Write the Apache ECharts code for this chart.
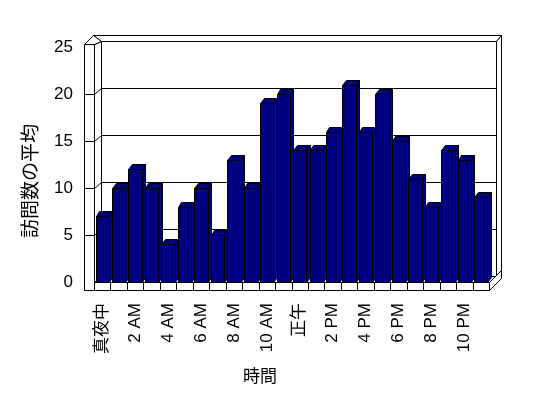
<!DOCTYPE html>
<html>
<head>
<meta charset="utf-8">
<script src="https://cdn.jsdelivr.net/npm/echarts@6/dist/echarts.min.js"></script>
<style>
html,body{margin:0;padding:0;background:#fff;}
#c{width:548px;height:398px;}
</style>
</head>
<body>
<div id="c"></div>
<script>
const hours = ['真夜中','1 AM','2 AM','3 AM','4 AM','5 AM','6 AM','7 AM','8 AM','9 AM','10 AM','11 AM',
               '正午','1 PM','2 PM','3 PM','4 PM','5 PM','6 PM','7 PM','8 PM','9 PM','10 PM','11 PM'];
const visits = [7,10,12,10,4,8,10,5,13,10,19,20,14,14,16,21,16,20,15,11,8,14,13,9];
const yMin = 0, yMax = 25, yStep = 5;
const gridValues = [5,10,15,20];
const xTitle = '時間';
const yTitle = '訪問数の平均';

const FONT = "'Liberation Sans','Noto Sans CJK JP',sans-serif";
const BAR = '#000080';
const r = v => Math.round(v) + 0.5;

function L(x1,y1,x2,y2){return {type:'line',shape:{x1:r(x1),y1:r(y1),x2:r(x2),y2:r(y2)},style:{stroke:'#000',lineWidth:1}};}
function P(pts,fill){return {type:'polygon',shape:{points:pts.map(p=>[r(p[0]),r(p[1])])},style:{fill:fill,stroke:'#000',lineWidth:1}};}

function renderFrame(params, api){
  const n = hours.length;
  const bw = api.size([1,0])[0];
  const c0 = api.coord([0,yMin]);
  const cN = api.coord([n-1,yMin]);
  const xl = c0[0]-bw/2, xr = cN[0]+bw/2, y0 = c0[1];
  const yT = api.coord([0,yMax])[1];
  const di = [6.5,-6], dO = [12,-12.5], ww = 10, fh = 8.3;
  const ch = [];
  // back wall inner surface
  ch.push(P([[xl+di[0],yT+di[1]],[xr+di[0],yT+di[1]],[xr+di[0],y0+di[1]],[xl+di[0],y0+di[1]]],'#fff'));
  // back wall top face
  ch.push(P([[xl+di[0],yT+di[1]],[xr+di[0],yT+di[1]],[xr+dO[0],yT+dO[1]],[xl-1,yT+dO[1]]],'#fff'));
  // back wall right end
  ch.push(P([[xr+di[0],yT+di[1]],[xr+dO[0],yT+dO[1]],[xr+dO[0],y0-12],[xr+di[0],y0+di[1]]],'#fff'));
  // floor top
  ch.push(P([[xl,y0],[xr,y0],[xr+di[0],y0+di[1]],[xl+di[0],y0+di[1]]],'#fff'));
  // floor right end
  ch.push(P([[xr,y0],[xr,y0+fh],[xr+12,y0+fh-12],[xr+12,y0-12]],'#fff'));
  // floor front face
  ch.push(P([[xl,y0],[xr,y0],[xr,y0+fh],[xl,y0+fh]],'#fff'));
  for(let k=1;k<n;k++){ ch.push(L(xl+k*bw,y0,xl+k*bw,y0+fh)); }
  // left wall inner face
  ch.push(P([[xl,yT-2.7],[xl+di[0],yT+di[1]],[xl+di[0],y0+di[1]],[xl,y0]],'#fff'));
  // left wall top face
  ch.push(P([[xl-ww,yT-2.7],[xl,yT-2.7],[xl+di[0],yT+di[1]],[xl-1,yT+dO[1]]],'#fff'));
  // left wall front face
  ch.push(P([[xl-ww,yT-2.7],[xl,yT-2.7],[xl,y0+fh],[xl-ww,y0+fh]],'#fff'));
  // gridlines
  gridValues.forEach(v=>{
    const yv = api.coord([0,v])[1];
    ch.push(L(xl-ww,yv,xl,yv));
    ch.push(L(xl,yv,xl+di[0],yv+di[1]));
    ch.push(L(xl+di[0],yv+di[1],xr+di[0],yv+di[1]));
  });
  return {type:'group',children:ch};
}

function renderBar(params, api){
  const i = api.value(0), v = api.value(1);
  const bw = api.size([1,0])[0];
  const w = bw*0.81;
  const p = api.coord([i,v]);
  const p0 = api.coord([i,yMin]);
  const x0 = p[0]-w/2, x1 = p[0]+w/2, yt = p[1], yb = p0[1];
  const dx = 3.5, dy = -5;
  return {type:'group',children:[
    P([[x1,yt],[x1,yb],[x1+dx,yb+dy],[x1+dx,yt+dy]],BAR),
    P([[x0,yt],[x1,yt],[x1+dx,yt+dy],[x0+dx,yt+dy]],BAR),
    P([[x0,yt],[x1,yt],[x1,yb],[x0,yb]],BAR)
  ]};
}

const chart = echarts.init(document.getElementById('c'), null, {renderer:'canvas'});
chart.setOption({
  animation:false,
  backgroundColor:'#fff',
  grid:{left:94,right:59,top:47,bottom:116},
  xAxis:{
    type:'category', data:hours,
    axisLine:{show:false}, axisTick:{show:false},
    axisLabel:{interval:1, rotate:90, margin:21, color:'#000', fontSize:17, fontFamily:FONT}
  },
  yAxis:{
    type:'value', min:yMin, max:yMax, interval:yStep,
    axisLine:{show:false}, axisTick:{show:false}, splitLine:{show:false},
    axisLabel:{margin:21, color:'#000', fontSize:17, fontFamily:FONT}
  },
  graphic:[
    {type:'text', x:260, y:377, style:{text:xTitle, font:'17px '+FONT, fill:'#000', align:'center', verticalAlign:'middle'}},
    {type:'text', x:32, y:181, rotation:Math.PI/2, style:{text:yTitle, font:'19px '+FONT, fill:'#000', align:'center', verticalAlign:'middle'}}
  ],
  series:[
    {type:'custom', z:1, silent:true, renderItem:renderFrame, data:[[0,0]], encode:{x:0,y:1}},
    {type:'custom', z:2, renderItem:renderBar, data:visits.map((v,i)=>[i,v]), encode:{x:0,y:1}}
  ]
});
</script>
</body>
</html>
